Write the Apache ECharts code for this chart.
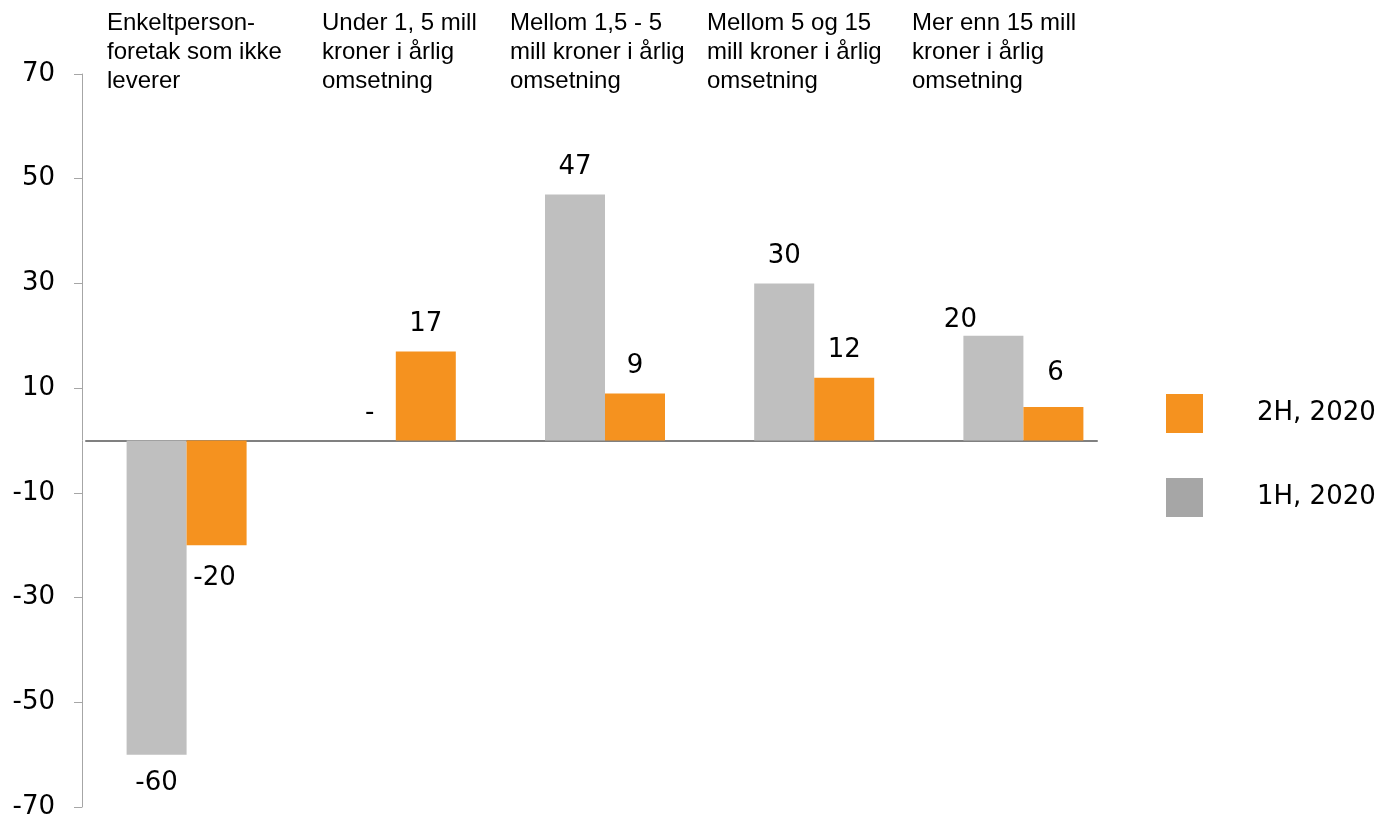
<!DOCTYPE html>
<html>
<head>
<meta charset="utf-8">
<script src="https://cdn.jsdelivr.net/npm/echarts@6/dist/echarts.min.js"></script>
<style>
  html, body { margin: 0; padding: 0; background: #ffffff; }
  #chart { width: 1381px; height: 815px; }
</style>
</head>
<body>
<div id="chart"></div>
<script>
// ---- data ----
const categories = [
  'Enkeltperson-\nforetak som ikke\nleverer',
  'Under 1, 5 mill\nkroner i årlig\nomsetning',
  'Mellom 1,5 - 5\nmill kroner i årlig\nomsetning',
  'Mellom 5 og 15\nmill kroner i årlig\nomsetning',
  'Mer enn 15 mill\nkroner i årlig\nomsetning'
];
const seriesNames = ['1H, 2020', '2H, 2020'];
const values1H = [-60, 0, 47, 30, 20];
const values2H = [-20, 17, 9, 12, 6.4];
const yMin = -70, yMax = 70, yStep = 20;

// ---- styles ----
const GRAY = '#bfbfbf';
const GRAY_LEGEND = '#a6a6a6';
const ORANGE = '#f5921f';
const NUM_FONT = '"DejaVu Sans", Verdana, sans-serif';
const CAT_FONT = '"Liberation Sans", Arial, sans-serif';
// per-item label placement tweaks (style only)
const labelTweak1H = [
  { position: 'bottom', distance: 16 },
  { position: 'top', distance: 14, offset: [4, 0] },
  { position: 'top', distance: 14 },
  { position: 'top', distance: 14 },
  { position: 'top', distance: 3, offset: [-33, 0] }
];
const labelTweak2H = [
  { position: 'bottom', distance: 20, offset: [-2, 0] },
  { position: 'top', distance: 14 },
  { position: 'top', distance: 14 },
  { position: 'top', distance: 14 },
  { position: 'top', distance: 21, offset: [2, 0] }
];
// left edge of category header text relative to category centre
const catLabelDx = [-80, -74, -95, -107, -111];

function fmtLabel(p) {
  const v = p.value;
  if (v === 0) return '-';
  return String(Math.round(v));
}
function buildData(vals, tweaks) {
  return vals.map((v, i) => ({ value: v, label: tweaks[i] }));
}

const chart = echarts.init(document.getElementById('chart'), null, { renderer: 'canvas' });
const GRID = { left: 82, top: 74, width: 1046, height: 733 };

chart.setOption({
  animation: false,
  backgroundColor: '#ffffff',
  grid: [
    { left: GRID.left, top: GRID.top, width: GRID.width, height: GRID.height, outerBoundsMode: 'none', containLabel: false },
    { left: 86, top: GRID.top, width: 1011, height: GRID.height, outerBoundsMode: 'none', containLabel: false }
  ],
  legend: {
    orient: 'vertical',
    left: 1161,
    top: 389,
    itemWidth: 37,
    itemHeight: 39,
    itemGap: 45,
    icon: 'rect',
    data: [
      { name: seriesNames[1] },
      { name: seriesNames[0], itemStyle: { color: GRAY_LEGEND } }
    ],
    textStyle: { fontSize: 26, lineHeight: 26, fontFamily: NUM_FONT, color: '#000', padding: [0, 0, 12, 49] }
  },
  xAxis: [
    {
      type: 'category',
      gridIndex: 0,
      data: categories,
      axisLine: { show: false },
      axisTick: { show: false },
      axisLabel: { show: false }
    },
    {
      type: 'category',
      gridIndex: 1,
      data: categories,
      axisLine: { show: true, onZero: true, lineStyle: { color: '#808080', width: 2 } },
      axisTick: { show: false },
      axisLabel: { show: false }
    }
  ],
  yAxis: [
    {
      type: 'value',
      gridIndex: 0,
      min: yMin,
      max: yMax,
      interval: yStep,
      axisLine: { show: true, lineStyle: { color: '#a6a6a6', width: 1 } },
      axisTick: { show: true, length: 8, lineStyle: { color: '#a6a6a6', width: 1 } },
      splitLine: { show: false },
      axisLabel: { margin: 27, fontSize: 26, fontFamily: NUM_FONT, color: '#000' }
    },
    {
      type: 'value',
      gridIndex: 1,
      min: yMin,
      max: yMax,
      show: false
    }
  ],
  series: [
    {
      name: seriesNames[0],
      type: 'bar',
      xAxisIndex: 0,
      yAxisIndex: 0,
      barWidth: 60,
      barGap: '0%',
      itemStyle: { color: GRAY },
      label: { show: true, fontSize: 26, fontFamily: NUM_FONT, color: '#000', formatter: fmtLabel },
      data: buildData(values1H, labelTweak1H)
    },
    {
      name: seriesNames[1],
      type: 'bar',
      xAxisIndex: 0,
      yAxisIndex: 0,
      barWidth: 60,
      barGap: '0%',
      itemStyle: { color: ORANGE },
      label: { show: true, fontSize: 26, fontFamily: NUM_FONT, color: '#000', formatter: fmtLabel },
      data: buildData(values2H, labelTweak2H)
    }
  ]
});

// category headers at top, positioned from the category axis
const headers = categories.map((c, i) => {
  const cx = chart.convertToPixel({ xAxisIndex: 0 }, i);
  return {
    type: 'text',
    left: Math.round(cx + catLabelDx[i]),
    top: 9,
    style: {
      text: c,
      font: '24px ' + CAT_FONT,
      fill: '#000',
      lineHeight: 29
    }
  };
});
chart.setOption({ graphic: headers });
</script>
</body>
</html>
